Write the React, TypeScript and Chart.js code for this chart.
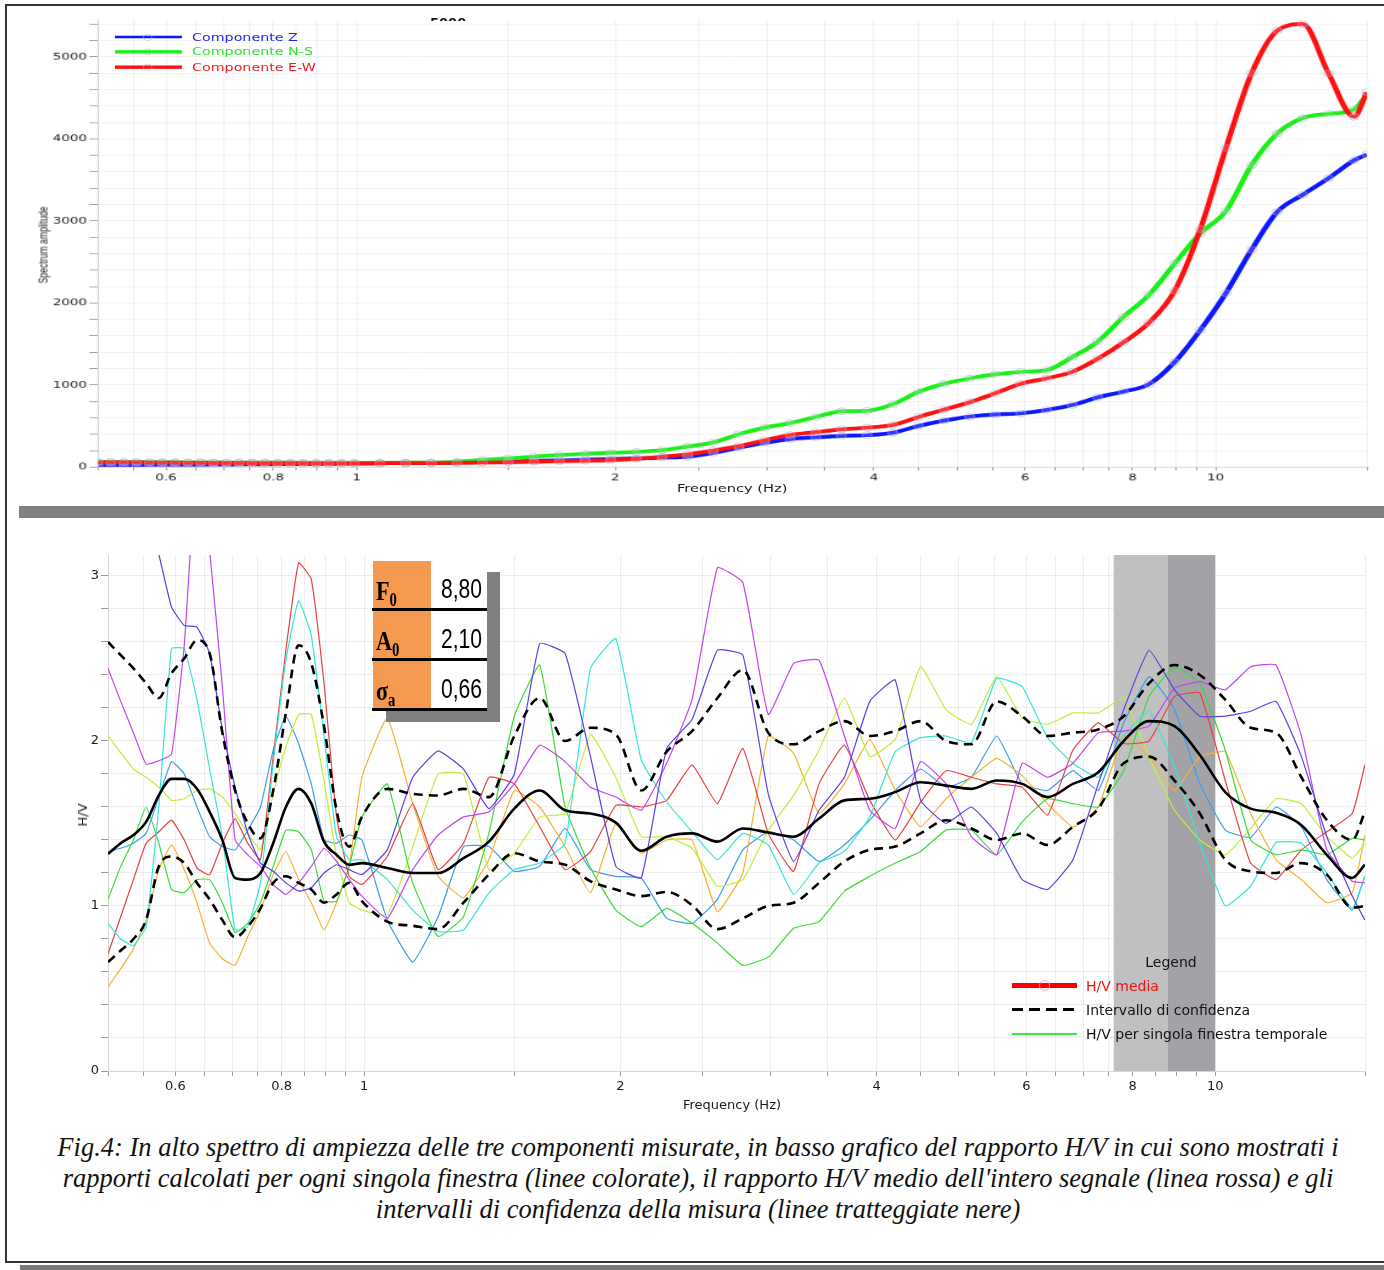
import React, { useEffect, useRef } from "react";
import { Chart, registerables } from "chart.js";

Chart.register(...registerables);

// ---------- shared frequency grid (Hz) ----------
const FREQ = [
  0.5, 0.5175, 0.5356, 0.5543, 0.5737, 0.5938, 0.6146, 0.6361, 0.6583, 0.6813, 0.7052,
  0.7298, 0.7553, 0.7818, 0.8091, 0.8374, 0.8667, 0.897, 0.928, 0.9603, 0.9939,
  1.0646, 1.1404, 1.2215, 1.3083, 1.4014, 1.5011,
  1.608, 1.7222, 1.8448, 1.976, 2.1165, 2.267, 2.4283, 2.601, 2.786, 2.9843, 3.1965, 3.424,
  3.6674, 3.9283, 4.2075, 4.5069,
  4.8274, 5.1708, 5.5383, 5.9323, 6.3541, 6.8062, 7.2898, 7.8085, 8.3637, 8.9587, 9.595,
  10.277, 11.008, 11.791, 12.629, 13.528, 14.49,
  14.995,
];

// ---------- top chart: spectrum amplitude ----------
const SPEC_Z = [
  25, 25, 26, 27, 28, 28, 29, 30, 30, 31, 32, 33, 34, 35, 36, 37, 38, 39, 40, 41, 42,
  45, 48, 50, 55, 60, 66,
  72, 80, 88, 96, 106, 115, 125, 170, 235, 295, 340, 362, 380, 388, 418, 500,
  565, 615, 640, 655, 695, 755, 850, 920, 1010, 1280, 1670, 2120, 2650, 3110, 3320, 3520, 3740,
  3810,
];
const SPEC_NS = [
  62, 62, 61, 61, 60, 60, 59, 58, 58, 57, 56, 56, 55, 55, 54, 54, 53, 53, 53, 52, 52,
  53, 54, 55, 65, 85, 105,
  126, 145, 160, 173, 185, 205, 250, 300, 400, 480, 535, 610, 680, 685, 765, 915,
  1015, 1080, 1130, 1160, 1180, 1340, 1530, 1830, 2100, 2480, 2850, 3120, 3680, 4065, 4255, 4305, 4360,
  4540,
];
const SPEC_EW = [
  58, 58, 57, 57, 56, 55, 54, 53, 52, 51, 50, 49, 48, 48, 47, 46, 46, 45, 45, 45, 45,
  46, 47, 48, 50, 54, 58,
  64, 70, 76, 84, 100, 125, 155, 200, 255, 325, 390, 425, 460, 480, 512, 610,
  700, 790, 900, 1015, 1080, 1160, 1320, 1520, 1760, 2150, 2900, 3890, 4800, 5320, 5400, 4800, 4270,
  4570,
];
const SPEC_NAMES = ["Componente Z", "Componente N-S", "Componente E-W"];

// ---------- bottom chart: H/V ----------
const HV_MEAN = [
  1.315, 1.38, 1.43, 1.51, 1.67, 1.77, 1.77, 1.71, 1.57, 1.4, 1.17, 1.16, 1.2, 1.38, 1.6, 1.71, 1.62, 1.39, 1.31, 1.25, 1.26,
  1.23, 1.2, 1.2, 1.29, 1.39, 1.59,
  1.7, 1.58, 1.56, 1.505, 1.335, 1.42, 1.44, 1.39, 1.47, 1.445, 1.42, 1.53, 1.64, 1.65, 1.69, 1.75,
  1.73, 1.71, 1.76, 1.74, 1.66, 1.74, 1.81, 2.0, 2.12, 2.09, 1.915, 1.69, 1.59, 1.565, 1.49, 1.31, 1.17,
  1.25,
];
const HV_UPPER = [
  2.6, 2.52, 2.44, 2.35, 2.26, 2.41, 2.5, 2.61, 2.53, 2.05, 1.7, 1.5, 1.41, 1.7, 2.17, 2.58, 2.47, 2.09, 1.58, 1.36, 1.54,
  1.71, 1.68, 1.67, 1.71, 1.66, 2.03,
  2.26, 2.0, 2.08, 2.04, 1.7, 1.935, 2.06, 2.26, 2.43, 2.05, 1.98, 2.06, 2.12, 2.03, 2.06, 2.12,
  2.0, 1.98, 2.24, 2.15, 2.03, 2.05, 2.07, 2.15, 2.35, 2.46, 2.4, 2.25, 2.08, 2.05, 1.78, 1.52, 1.4,
  1.57,
];
const HV_LOWER = [
  0.66, 0.73, 0.8, 0.915, 1.24, 1.3, 1.26, 1.14, 1.04, 0.915, 0.81, 0.875, 0.985, 1.14, 1.18, 1.14, 1.1, 1.02, 1.07, 1.14, 1.03,
  0.905, 0.88, 0.86, 1.02, 1.19, 1.32,
  1.27, 1.25, 1.15, 1.1, 1.06, 1.085, 1.005, 0.86, 0.925, 1.0, 1.02, 1.14, 1.27, 1.34, 1.36, 1.44,
  1.52, 1.47, 1.4, 1.44, 1.37, 1.48, 1.59, 1.865, 1.905, 1.76, 1.56, 1.28, 1.21, 1.2, 1.26, 1.19, 0.99,
  1.0,
];
const HV_WIN_VIOLET = [
  3.6, 3.55, 3.45, 3.35, 3.13, 2.81, 2.7, 2.69, 2.53, 2.07, 1.72, 1.44, 1.26, 1.21, 1.14, 1.09, 1.11, 1.2, 1.25, 1.22, 1.19,
  1.34, 1.78, 1.94, 1.83, 1.59, 1.8,
  2.59, 2.53, 1.905, 1.24, 1.17, 1.955, 2.13, 2.55, 2.52, 1.68, 1.27, 1.58, 1.78, 2.24, 2.37, 1.64,
  1.5, 1.6, 1.44, 1.16, 1.1, 1.28, 1.74, 2.19, 2.55, 2.31, 2.15, 2.15, 2.18, 2.24, 1.905, 1.42, 1.06,
  0.915,
];
const HV_WIN_MAGENTA = [
  2.44, 2.24, 2.05, 1.86, 1.88, 1.92, 2.58, 3.7, 3.15, 2.33, 1.4, 1.31, 1.24, 1.13, 1.07, 1.14, 1.24, 1.35, 1.27, 1.16, 1.06,
  0.925, 1.22, 1.43, 1.54, 1.57, 1.74,
  1.975, 1.875, 1.72, 1.66, 1.58, 1.865, 2.25, 3.05, 2.96, 2.16, 2.47, 2.49, 2.03, 1.58, 1.47, 1.875,
  1.74, 1.42, 1.31, 1.865, 1.78, 1.865, 2.05, 2.06, 2.09, 2.32, 2.36, 2.31, 2.45, 2.46, 2.03, 1.34, 1.15,
  1.14,
];
const HV_WIN_CYAN = [
  0.895, 0.8, 0.76, 0.875, 1.6, 2.56, 2.56, 2.25, 1.83, 1.42, 0.855, 0.875, 1.14, 1.865, 2.49, 2.85, 2.64, 2.03, 1.42, 1.28, 1.28,
  1.16, 0.975, 0.845, 0.855, 1.08, 1.22,
  1.26, 1.38, 2.44, 2.62, 1.885, 1.63, 1.45, 1.28, 1.44, 1.37, 1.07, 1.26, 1.33, 1.54, 1.935, 2.02,
  2.03, 1.99, 2.38, 2.33, 2.02, 1.865, 1.78, 2.03, 2.18, 1.845, 1.38, 1.0, 1.12, 1.385, 1.38, 1.2, 0.985,
  1.18,
];
const HV_WIN_RED = [
  0.71, 0.935, 1.16, 1.38, 1.45, 1.52, 1.4, 1.23, 1.19, 1.38, 1.53, 1.38, 1.28, 1.905, 2.55, 3.08, 2.98, 2.35, 1.54, 1.18, 1.13,
  1.3, 1.62, 1.22, 1.38, 1.78, 1.74,
  1.48, 1.22, 1.33, 1.61, 1.6, 1.64, 1.855, 1.62, 1.955, 1.44, 1.21, 1.74, 1.975, 1.64, 1.4, 1.63,
  1.82, 1.78, 1.74, 1.72, 1.55, 1.945, 2.11, 1.985, 2.0, 2.27, 2.29, 1.76, 1.26, 1.16, 1.34, 1.45, 1.56,
  1.855,
];
const HV_WIN_GREEN = [
  1.04, 1.24, 1.4, 1.6, 1.38, 1.1, 1.08, 1.16, 1.16, 1.02, 0.84, 0.895, 1.02, 1.24, 1.46, 1.45, 1.34, 1.03, 1.03, 1.24, 1.54,
  1.74, 1.14, 0.815, 0.935, 1.44, 2.15,
  2.46, 1.6, 1.23, 0.975, 0.875, 0.985, 0.895, 0.775, 0.64, 0.69, 0.865, 0.905, 1.09, 1.18, 1.26, 1.33,
  1.46, 1.46, 1.31, 1.51, 1.65, 1.62, 1.6, 1.82, 2.27, 2.45, 2.35, 1.945, 1.4, 1.31, 1.34, 1.31, 1.41,
  1.4,
];
const HV_WIN_LIME = [
  2.03, 1.93, 1.83, 1.78, 1.72, 1.64, 1.65, 1.7, 1.71, 1.66, 1.56, 1.44, 1.34, 1.68, 1.965, 2.16, 2.16, 1.76, 1.3, 1.02, 0.975,
  0.945, 1.36, 1.8, 1.8, 1.22, 1.32,
  1.54, 1.56, 2.04, 1.78, 1.42, 1.42, 1.35, 1.12, 1.16, 1.46, 1.67, 1.945, 2.26, 1.905, 2.01, 2.45,
  2.19, 2.1, 2.39, 2.14, 2.1, 2.17, 2.17, 2.26, 1.905, 1.58, 1.4, 1.31, 1.47, 1.65, 1.62, 1.42, 1.29,
  1.38,
];
const HV_WIN_ORANGE = [
  0.51, 0.62, 0.74, 0.915, 1.22, 1.37, 1.22, 1.02, 0.775, 0.68, 0.64, 0.815, 0.975, 1.19, 1.33, 1.16, 1.02, 0.855, 1.02, 1.24, 1.78,
  2.14, 1.62, 1.18, 1.05, 1.28, 1.7,
  1.6, 1.36, 1.08, 1.5, 1.32, 1.4, 1.4, 0.965, 1.2, 2.03, 1.925, 1.56, 1.74, 2.01, 1.7, 1.48,
  1.65, 1.78, 1.895, 1.79, 1.62, 1.48, 1.6, 2.03, 1.905, 1.7, 1.905, 1.935, 1.56, 1.28, 1.16, 1.02, 1.08,
  1.43,
];
const HV_WIN_SKY = [
  1.33, 1.35, 1.38, 1.44, 1.66, 1.875, 1.8, 1.6, 1.42, 1.36, 1.34, 1.46, 1.6, 1.945, 2.15, 1.985, 1.74, 1.4, 1.38, 1.43, 1.4,
  0.915, 0.66, 0.935, 1.36, 1.36, 1.21,
  1.24, 1.47, 1.22, 1.18, 1.17, 0.925, 0.895, 1.04, 1.34, 1.45, 1.4, 1.27, 1.37, 1.52, 1.7, 1.83,
  1.72, 1.78, 2.03, 1.74, 1.7, 1.82, 1.7, 2.11, 2.39, 2.19, 1.74, 1.46, 1.415, 1.6, 1.48, 1.16, 0.975,
  1.18,
];
const HV_WINDOWS = [
  HV_WIN_VIOLET, HV_WIN_MAGENTA, HV_WIN_CYAN, HV_WIN_RED,
  HV_WIN_GREEN, HV_WIN_LIME, HV_WIN_ORANGE, HV_WIN_SKY,
];
const WINDOW_COLORS = [
  "#5a3ee6", "#c244f0", "#34e6d6", "#e84040",
  "#38dc38", "#bdee3a", "#f5b235", "#3c9cf0",
];

// peak band (Hz)
const BAND_LOW = [7.6, 8.8];
const BAND_HIGH = [8.8, 10.0];

// axes ticks
const X_GRID_TICKS = [
  0.5, 0.55, 0.6, 0.65, 0.7, 0.75, 0.8, 0.85, 0.9, 0.95, 1, 1.5, 2, 2.5, 3, 3.5, 4, 4.5,
  5, 5.5, 6, 6.5, 7, 7.5, 8, 8.5, 9, 9.5, 10, 15,
];
const X_TICK_LABELS = [0.6, 0.8, 1, 2, 4, 6, 8, 10];
const SPEC_Y_TICKS = [
  0, 200, 400, 600, 800, 1000, 1200, 1400, 1600, 1800, 2000, 2200, 2400, 2600, 2800,
  3000, 3200, 3400, 3600, 3800, 4000, 4200, 4400, 4600, 4800, 5000, 5200, 5400,
];
const HV_Y_TICKS = [0, 0.2, 0.4, 0.6, 0.8, 1, 1.2, 1.4, 1.6, 1.8, 2, 2.2, 2.4, 2.6, 2.8, 3];

// result table
const TABLE_ROWS = [
  { sym: "F", sub: "0", value: "8,80" },
  { sym: "A", sub: "0", value: "2,10" },
  { sym: "σ", sub: "a", value: "0,66" },
];

const CAPTION = [
  "Fig.4: In alto spettro di ampiezza delle tre componenti misurate, in basso grafico del rapporto H/V in cui sono mostrati i",
  "rapporti calcolati per ogni singola finestra (linee colorate), il rapporto H/V medio dell'intero segnale (linea rossa) e gli",
  "intervalli di confidenza della misura (linee tratteggiate nere)",
];

const xy = (ys: number[]) => FREQ.map((f, i) => ({ x: f, y: ys[i] }));

const SANS = "'DejaVu Sans', Verdana, sans-serif";
const ARIAL = "'Liberation Sans', Arial, sans-serif";
const SERIF = "'Liberation Serif', 'Times New Roman', serif";

// top canvas is drawn at an internal size then stretched like the reference
const TOP_W = 1134;
const TOP_H = 594;
const SX = 1384 / TOP_W;
const SY = 505 / TOP_H;

function SpectrumChart() {
  const ref = useRef<HTMLCanvasElement>(null);
  useEffect(() => {
    const colors = ["#0b18ff", "#18f018", "#ff1010"];
    const series = [SPEC_Z, SPEC_NS, SPEC_EW];
    const chart = new Chart(ref.current as HTMLCanvasElement, {
      type: "line",
      data: {
        datasets: series.map((s, i) => ({
          label: SPEC_NAMES[i],
          data: xy(s),
          borderColor: colors[i],
          borderWidth: 4.5,
          pointRadius: 4,
          pointBorderWidth: 1,
          pointBorderColor: "rgba(175,160,200,0.6)",
          pointBackgroundColor: "rgba(255,255,255,0.15)",
          cubicInterpolationMode: "monotone" as const,
          order: 2 - i,
        })),
      },
      options: {
        responsive: false,
        maintainAspectRatio: false,
        devicePixelRatio: 1,
        animation: false,
        events: [],
        layout: { padding: { left: 0, right: TOP_W - 1367 / SX, top: 20 / SY, bottom: 0 } },
        plugins: { legend: { display: false }, tooltip: { enabled: false } },
        scales: {
          x: {
            type: "logarithmic",
            min: 0.5,
            max: 15,
            afterBuildTicks: (s: any) => {
              s.ticks = X_GRID_TICKS.map((v) => ({ value: v }));
            },
            afterFit: (s: any) => {
              s.height = TOP_H - 467 / SY;
            },
            grid: { color: "rgba(0,0,0,0.055)", tickColor: "#9a9a9a", tickLength: 4 },
            border: { color: "#cfcfcf" },
            ticks: {
              autoSkip: false,
              maxRotation: 0,
              minRotation: 0,
              padding: 2,
              color: "#1a1a1a",
              font: { family: SANS, size: 11 },
              callback: (v: any) => (X_TICK_LABELS.includes(Number(v)) ? String(v) : ""),
            },
          },
          y: {
            min: 0,
            max: 5450,
            afterBuildTicks: (s: any) => {
              s.ticks = SPEC_Y_TICKS.map((v) => ({ value: v }));
            },
            afterFit: (s: any) => {
              s.width = 98 / SX;
            },
            grid: { color: "rgba(0,0,0,0.055)", tickColor: "#9a9a9a", tickLength: 7 },
            border: { color: "#cfcfcf" },
            ticks: {
              padding: 2,
              color: "#1a1a1a",
              font: { family: SANS, size: 11 },
              callback: (v: any) => (Number(v) % 1000 === 0 ? String(v) : ""),
            },
          },
        },
      },
    } as any);
    return () => chart.destroy();
  }, []);

  const legendColors = ["#2424e8", "#2ee02e", "#ee2020"];
  const legendLine = ["#0b18ff", "#18f018", "#ff1010"];
  return (
    <div
      style={{
        position: "absolute",
        left: 0,
        top: 0,
        width: TOP_W,
        height: TOP_H,
        transform: `scale(${SX}, ${SY})`,
        transformOrigin: "0 0",
      }}
    >
      <canvas ref={ref} width={TOP_W} height={TOP_H} style={{ width: TOP_W, height: TOP_H, display: "block" }} />
      {SPEC_NAMES.map((name, i) => {
        const cy = (37 + 15 * i) / SY;
        return (
          <React.Fragment key={name}>
            <div
              style={{
                position: "absolute",
                left: 115 / SX,
                top: cy - 1.75,
                width: 67 / SX,
                height: 3.5,
                background: legendLine[i],
              }}
            />
            <div
              style={{
                position: "absolute",
                left: 148 / SX - 4,
                top: cy - 4,
                width: 6,
                height: 6,
                borderRadius: "50%",
                border: "1px solid rgba(175,160,200,0.6)",
              }}
            />
            <div
              style={{
                position: "absolute",
                left: 192 / SX,
                top: cy - 7,
                lineHeight: "14px",
                fontFamily: SANS,
                fontSize: 11.7,
                color: legendColors[i],
                whiteSpace: "nowrap",
              }}
            >
              {name}
            </div>
          </React.Fragment>
        );
      })}
      <div
        style={{
          position: "absolute",
          left: 677 / SX,
          top: 489 / SY - 8,
          lineHeight: "16px",
          fontFamily: SANS,
          fontSize: 12,
          color: "#1a1a1a",
          whiteSpace: "nowrap",
        }}
      >
        Frequency (Hz)
      </div>
    </div>
  );
}

const bandPlugin = {
  id: "peakBands",
  beforeDatasetsDraw(chart: any) {
    const { ctx, chartArea, scales } = chart;
    const x = scales.x;
    ctx.save();
    const a0 = x.getPixelForValue(BAND_LOW[0]);
    const a1 = x.getPixelForValue(BAND_LOW[1]);
    const b1 = x.getPixelForValue(BAND_HIGH[1]);
    ctx.fillStyle = "#c0c0c0";
    ctx.fillRect(a0, chartArea.top, a1 - a0, chartArea.bottom - chartArea.top);
    ctx.fillStyle = "#a3a3a7";
    ctx.fillRect(a1, chartArea.top, b1 - a1, chartArea.bottom - chartArea.top);
    ctx.restore();
  },
};

function HVChart() {
  const ref = useRef<HTMLCanvasElement>(null);
  useEffect(() => {
    const datasets: any[] = [
      {
        label: "H/V media",
        data: xy(HV_MEAN),
        borderColor: "#000",
        borderWidth: 2.6,
        pointRadius: 0,
        cubicInterpolationMode: "monotone",
        order: 0,
      },
      {
        label: "Intervallo di confidenza +",
        data: xy(HV_UPPER),
        borderColor: "#000",
        borderWidth: 2.6,
        borderDash: [9, 6],
        pointRadius: 0,
        cubicInterpolationMode: "monotone",
        order: 0,
      },
      {
        label: "Intervallo di confidenza -",
        data: xy(HV_LOWER),
        borderColor: "#000",
        borderWidth: 2.6,
        borderDash: [9, 6],
        pointRadius: 0,
        cubicInterpolationMode: "monotone",
        order: 0,
      },
      ...HV_WINDOWS.map((s, i) => ({
        label: "finestra " + (i + 1),
        data: xy(s),
        borderColor: WINDOW_COLORS[i],
        borderWidth: 1.2,
        pointRadius: 0,
        tension: 0.12,
        order: 1,
      })),
    ];
    const chart = new Chart(ref.current as HTMLCanvasElement, {
      type: "line",
      data: { datasets },
      plugins: [bandPlugin],
      options: {
        responsive: false,
        maintainAspectRatio: false,
        devicePixelRatio: 1,
        animation: false,
        events: [],
        layout: { padding: { left: 0, right: 1384 - 1365, top: 35, bottom: 0 } },
        plugins: { legend: { display: false }, tooltip: { enabled: false } },
        scales: {
          x: {
            type: "logarithmic",
            min: 0.5,
            max: 15,
            afterBuildTicks: (s: any) => {
              s.ticks = X_GRID_TICKS.map((v) => ({ value: v }));
            },
            afterFit: (s: any) => {
              s.height = 610 - 551;
            },
            grid: { color: "rgba(0,0,0,0.07)", tickColor: "#9a9a9a", tickLength: 5 },
            border: { color: "#d6d6d6" },
            ticks: {
              autoSkip: false,
              maxRotation: 0,
              minRotation: 0,
              padding: 3,
              color: "#1a1a1a",
              font: { family: SANS, size: 13 },
              callback: (v: any) => (X_TICK_LABELS.includes(Number(v)) ? String(v) : ""),
            },
          },
          y: {
            min: 0,
            max: 3.127,
            afterBuildTicks: (s: any) => {
              s.ticks = HV_Y_TICKS.map((v) => ({ value: v }));
            },
            afterFit: (s: any) => {
              s.width = 108;
            },
            grid: { color: "rgba(0,0,0,0.07)", tickColor: "#9a9a9a", tickLength: 7 },
            border: { color: "#d6d6d6" },
            ticks: {
              padding: 2,
              color: "#1a1a1a",
              font: { family: SANS, size: 13 },
              callback: (v: any) => (Number.isInteger(Number(v)) ? String(v) : ""),
            },
          },
        },
      },
    } as any);
    return () => chart.destroy();
  }, []);
  return (
    <div style={{ position: "absolute", left: 0, top: 520, width: 1384, height: 610 }}>
      <canvas ref={ref} width={1384} height={610} style={{ width: 1384, height: 610, display: "block" }} />
    </div>
  );
}

function ResultTable() {
  return (
    <>
      <div style={{ position: "absolute", left: 386, top: 572, width: 114, height: 150, background: "#7f7f7f" }} />
      {TABLE_ROWS.map((r, i) => {
        const top = 561 + 50 * i;
        return (
          <React.Fragment key={r.sym}>
            <div style={{ position: "absolute", left: 373, top, width: 58, height: 48, background: "#f4994f" }} />
            <div style={{ position: "absolute", left: 431, top, width: 56, height: 48, background: "#ffffff" }} />
            <div style={{ position: "absolute", left: 372, top: top + 47, width: 115, height: 3, background: "#000" }} />
            <div
              style={{
                position: "absolute",
                left: 376,
                top: top + 17,
                lineHeight: "27px",
                fontFamily: SERIF,
                fontWeight: "bold",
                fontSize: 27,
                color: "#000",
                whiteSpace: "nowrap",
                transform: "scaleX(0.82)",
                transformOrigin: "0 0",
              }}
            >
              {r.sym}
              <span style={{ fontSize: 18, verticalAlign: "-6px" }}>{r.sub}</span>
            </div>
            <div
              style={{
                position: "absolute",
                left: 381,
                top: top + 15,
                width: 101,
                textAlign: "right",
                lineHeight: "27px",
                fontFamily: ARIAL,
                fontSize: 27,
                color: "#000",
                whiteSpace: "nowrap",
                transform: "scaleX(0.78)",
                transformOrigin: "100% 0",
              }}
            >
              {r.value}
            </div>
          </React.Fragment>
        );
      })}
    </>
  );
}

function HVLegend() {
  const text = { position: "absolute" as const, left: 1086, lineHeight: "18px", fontFamily: SANS, fontSize: 14, whiteSpace: "nowrap" as const };
  return (
    <>
      <div style={{ ...text, left: 1171, top: 953, transform: "translateX(-50%)", color: "#111" }}>Legend</div>
      <div style={{ position: "absolute", left: 1012, top: 983, width: 65, height: 5, background: "#ff0000" }} />
      <div
        style={{
          position: "absolute",
          left: 1039,
          top: 980,
          width: 9,
          height: 9,
          borderRadius: "50%",
          border: "1px solid rgba(255,160,160,0.9)",
        }}
      />
      <div style={{ ...text, top: 977, color: "#ee1111" }}>H/V media</div>
      <div
        style={{
          position: "absolute",
          left: 1012,
          top: 1008,
          width: 66,
          height: 3,
          background: "repeating-linear-gradient(90deg, #000 0px, #000 11px, transparent 11px, transparent 17px)",
        }}
      />
      <div style={{ ...text, top: 1001, color: "#111" }}>Intervallo di confidenza</div>
      <div style={{ position: "absolute", left: 1012, top: 1033, width: 65, height: 1.5, background: "#3ae83a" }} />
      <div style={{ ...text, top: 1025, color: "#111" }}>H/V per singola finestra temporale</div>
    </>
  );
}

export default function App() {
  return (
    <div
      style={{
        position: "absolute",
        left: 0,
        top: 0,
        width: 1384,
        height: 1270,
        background: "#ffffff",
        overflow: "hidden",
      }}
    >
      <SpectrumChart />
      {/* clipped heading fragment */}
      <div style={{ position: "absolute", left: 430, top: 16, width: 38, height: 5, overflow: "hidden" }}>
        <div style={{ fontFamily: SANS, fontWeight: "bold", fontSize: 13, lineHeight: "13px", color: "#111" }}>5000</div>
      </div>
      <div
        style={{
          position: "absolute",
          left: 44,
          top: 245,
          transform: "translate(-50%, -50%) rotate(-90deg) scaleX(0.72)",
          fontFamily: ARIAL,
          fontSize: 12,
          color: "#1a1a1a",
          whiteSpace: "nowrap",
          lineHeight: "13px",
        }}
      >
        Spectrum amplitude
      </div>
      {/* separator bar */}
      <div style={{ position: "absolute", left: 19, top: 506, width: 1365, height: 12, background: "#808080" }} />
      <HVChart />
      <div
        style={{
          position: "absolute",
          left: 83,
          top: 815,
          transform: "translate(-50%, -50%) rotate(-90deg)",
          fontFamily: SANS,
          fontSize: 13,
          color: "#1a1a1a",
          whiteSpace: "nowrap",
          lineHeight: "16px",
        }}
      >
        H/V
      </div>
      <div
        style={{
          position: "absolute",
          left: 683,
          top: 1096,
          fontFamily: SANS,
          fontSize: 13,
          lineHeight: "18px",
          color: "#1a1a1a",
          whiteSpace: "nowrap",
        }}
      >
        Frequency (Hz)
      </div>
      <ResultTable />
      <HVLegend />
      {CAPTION.map((line, i) => (
        <div
          key={i}
          style={{
            position: "absolute",
            left: 0,
            top: 1132 + 31 * i,
            width: 1396,
            textAlign: "center",
            fontFamily: SERIF,
            fontStyle: "italic",
            fontSize: 26.5,
            lineHeight: "31px",
            color: "#111",
            whiteSpace: "nowrap",
          }}
        >
          {line}
        </div>
      ))}
      {/* outer frame */}
      <div style={{ position: "absolute", left: 5, top: 5, width: 2, height: 1258, background: "#333" }} />
      <div style={{ position: "absolute", left: 5, top: 4, width: 1379, height: 2, background: "#333" }} />
      <div style={{ position: "absolute", left: 5, top: 1261, width: 1379, height: 2, background: "#333" }} />
      <div style={{ position: "absolute", left: 20, top: 1265, width: 1364, height: 5, background: "#7a7a7a" }} />
    </div>
  );
}
